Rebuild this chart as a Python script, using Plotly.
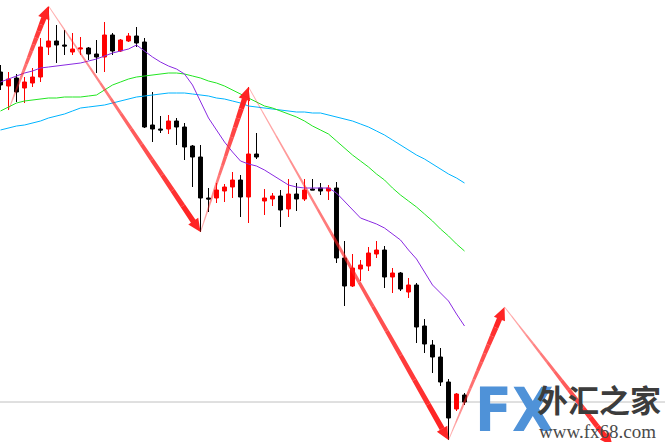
import math
import plotly.graph_objects as go

# ---------------- data (price units, arbitrary scale) ----------------
idx = list(range(59))

open_ = [370, 356, 364, 354, 359, 365, 395, 401, 397, 390,
         393, 394, 388, 385, 407, 391, 401, 406, 400, 317,
         313, 313, 321, 315, 296, 285, 244, 244, 251, 255,
         262, 245, 288, 241, 243, 246, 233, 248, 243, 253,
         254, 251, 254, 184, 156, 173, 176, 188, 192, 165,
         169, 150, 157, 116, 97, 85, 60, 33, 47]
high = [377, 370, 368, 365, 374, 404, 435, 417, 412, 409,
        405, 395, 402, 420, 409, 403, 409, 415, 404, 350,
        326, 327, 324, 319, 297, 297, 254, 259, 258, 270,
        267, 355, 309, 253, 249, 252, 263, 259, 263, 263,
        259, 257, 260, 201, 188, 182, 195, 201, 196, 174,
        170, 164, 159, 123, 102, 94, 63, 49, 49]
low = [352, 332, 340, 339, 355, 360, 387, 379, 387, 387,
       387, 382, 369, 370, 387, 390, 400, 395, 314, 300,
       309, 308, 297, 282, 255, 210, 230, 239, 240, 244,
       225, 219, 283, 227, 236, 215, 225, 231, 241, 252,
       247, 242, 179, 136, 155, 161, 171, 184, 154, 149,
       151, 144, 99, 89, 69, 56, 2, 31, 37]
close = [357, 363, 350, 360, 365, 395, 401, 397, 396, 393,
         394, 388, 385, 407, 391, 402, 406, 399, 315, 313,
         312, 321, 315, 295, 285, 244, 243, 252, 255, 262,
         245, 288, 285, 244, 246, 232, 248, 243, 252, 252,
         251, 254, 184, 156, 174, 177, 189, 192, 165, 169,
         153, 157, 115, 98, 85, 60, 24, 48, 40]

ma_fast = [360, 363, 366, 369, 371, 374, 375, 376, 377, 378,
           379, 381, 383, 386, 389, 391, 393, 397, 391, 385,
           380, 376, 373, 368, 357, 341, 324, 312, 300, 290,
           281, 278, 276, 272, 267, 262, 257, 255, 254, 254,
           254, 254, 249, 241, 233, 224, 221, 218, 214, 208,
           202, 192, 183, 170, 157, 149, 141, 128, 116]
ma_mid = [331, 335, 339, 341, 342, 343, 344, 344, 345, 345,
          345, 346, 347, 352, 357, 360, 363, 365, 366, 367,
          368, 369, 369, 368, 366, 364, 361, 359, 356, 352,
          348, 344, 340, 336, 334, 331, 328, 325, 321, 316,
          312, 308, 301, 294, 287, 281, 275, 268, 262, 254,
          247, 241, 235, 228, 221, 213, 206, 198, 191]
ma_slow = [312, 314, 316, 317, 319, 321, 324, 326, 328, 331,
           334, 335, 336, 337, 339, 341, 343, 345, 346, 347,
           348, 349, 349, 349, 348, 347, 346, 344, 343, 341,
           339, 336, 335, 334, 333, 332, 331, 330, 330, 329,
           329, 327, 325, 323, 321, 318, 315, 311, 307, 302,
           297, 292, 287, 283, 278, 273, 268, 264, 259]

zz_x = [1, 6, 25, 31, 56, 63, 76.5]
zz_y = [332, 436, 210, 355, 2, 135, -4]

bid_level = 40

# ---------------- axes geometry ----------------
W, H = 665, 442
X0, X1 = -0.0625, 83.0625
Y0, Y1 = 0, 442


def to_px(xv, yv):
    return (xv - X0) * W / (X1 - X0), (yv - Y0) * H / (Y1 - Y0)


def from_px(px, py):
    return px * (X1 - X0) / W + X0, py * (Y1 - Y0) / H + Y0


fig = go.Figure()

fig.add_trace(go.Candlestick(
    x=idx, open=open_, high=high, low=low, close=close,
    increasing=dict(line=dict(color="#ff0000", width=1), fillcolor="#ff0000"),
    decreasing=dict(line=dict(color="#000000", width=1), fillcolor="#000000"),
    whiskerwidth=0, hoverinfo="skip", showlegend=False))

for vals, col in ((ma_slow, "#00b4ff"), (ma_mid, "#22e622"), (ma_fast, "#8a2be2")):
    fig.add_trace(go.Scatter(x=idx, y=vals, mode="lines",
                             line=dict(color=col, width=1),
                             hoverinfo="skip", showlegend=False))

# ---------------- tapered zigzag arrows ----------------
NSEG = 14
groups = [[[], []] for _ in range(NSEG)]


def add_poly(k, pts):
    gx, gy = groups[k]
    for px, py in pts + [pts[0]]:
        xv, yv = from_px(px, py)
        gx.append(xv)
        gy.append(yv)
    gx.append(None)
    gy.append(None)


w0, w1, head_len, head_w = 0.8, 5.5, 13.0, 12.0
for a in range(len(zz_x) - 1):
    x0, y0 = to_px(zz_x[a], zz_y[a])
    x1, y1 = to_px(zz_x[a + 1], zz_y[a + 1])
    dx, dy = x1 - x0, y1 - y0
    L = math.hypot(dx, dy)
    ux, uy = dx / L, dy / L
    nx, ny = -uy, ux
    shaft = L - head_len
    for k in range(NSEG):
        t0 = shaft * k / NSEG
        t1 = shaft * (k + 1) / NSEG
        wa = (w0 + (w1 - w0) * k / NSEG) / 2
        wb = (w0 + (w1 - w0) * (k + 1) / NSEG) / 2
        pts = [(x0 + ux * t0 + nx * wa, y0 + uy * t0 + ny * wa),
               (x0 + ux * t1 + nx * wb, y0 + uy * t1 + ny * wb),
               (x0 + ux * t1 - nx * wb, y0 + uy * t1 - ny * wb),
               (x0 + ux * t0 - nx * wa, y0 + uy * t0 - ny * wa)]
        add_poly(k, pts)
    bx, by = x0 + ux * shaft, y0 + uy * shaft
    hw = head_w / 2
    add_poly(NSEG - 1, [(bx + nx * hw, by + ny * hw), (x1, y1),
                        (bx - nx * hw, by - ny * hw)])

for k in range(NSEG):
    alpha = 0.35 + 0.62 * k / (NSEG - 1)
    col = "rgba(255,30,30,%.3f)" % alpha
    fig.add_trace(go.Scatter(x=groups[k][0], y=groups[k][1], mode="lines",
                             fill="toself", fillcolor=col,
                             line=dict(width=0, color=col),
                             hoverinfo="skip", showlegend=False))

fig.add_shape(type="line", xref="paper", x0=0, x1=1, yref="y",
              y0=bid_level, y1=bid_level,
              line=dict(color="#c0c0c0", width=1), layer="below")

# ---------------- watermark logo ----------------
fig.add_annotation(xref="paper", yref="paper", x=473 / W, y=1 - 410 / H,
                   xanchor="left", yanchor="middle", showarrow=False,
                   text="<b>FX</b>",
                   font=dict(family="Liberation Sans Narrow, DejaVu Sans Condensed, sans-serif",
                             size=60, color="#4f92d8"))
fig.add_annotation(xref="paper", yref="paper", x=535 / W, y=1 - 398 / H,
                   xanchor="left", yanchor="middle", showarrow=False,
                   text="<b>外汇之家</b>",
                   font=dict(family="Noto Sans CJK SC", size=31, color="#3c3c3c"))
fig.add_annotation(xref="paper", yref="paper", x=537 / W, y=1 - 431 / H,
                   xanchor="left", yanchor="middle", showarrow=False,
                   text="www.fx68.com",
                   font=dict(family="Liberation Serif, DejaVu Serif, serif",
                             size=19, color="#4a4a4a"))

fig.update_layout(
    width=W, height=H, margin=dict(l=0, r=0, t=0, b=0),
    paper_bgcolor="white", plot_bgcolor="white", showlegend=False,
    xaxis=dict(range=[X0, X1], visible=False, rangeslider=dict(visible=False),
               showgrid=False, zeroline=False),
    yaxis=dict(range=[Y0, Y1], visible=False, showgrid=False, zeroline=False),
)

fig.write_html("out.html", config={"displayModeBar": False},
               post_script="document.body.style.margin='0';document.body.style.overflow='hidden';")
